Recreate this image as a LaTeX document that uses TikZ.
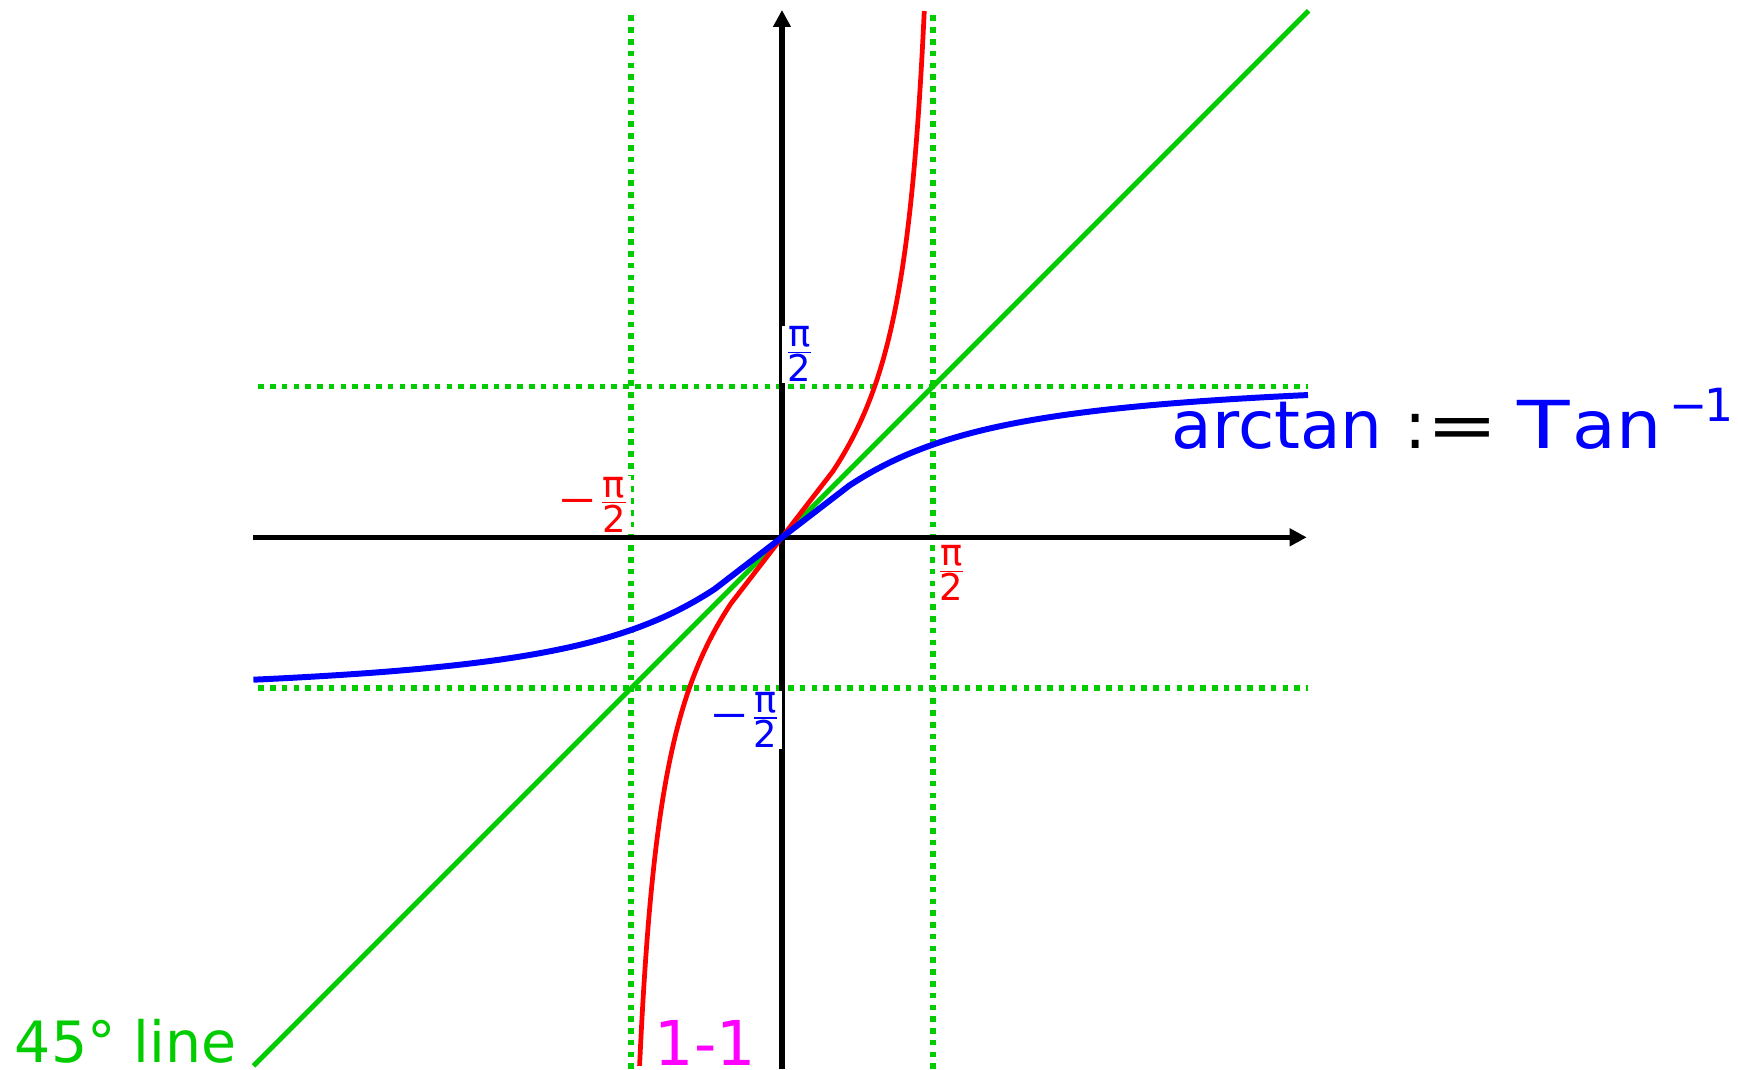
\documentclass[tikz,border=0pt]{standalone}
\usepackage{fontspec}
\setmainfont{DejaVu Sans}
\usetikzlibrary{arrows.meta}
\definecolor{lgreen}{RGB}{0,204,0}
\definecolor{pblue}{RGB}{0,0,255}
\definecolor{pred}{RGB}{255,0,0}
\definecolor{pmag}{RGB}{255,0,255}
\newcommand{\halfpi}{$\textstyle{\mbox{π}\over\mbox{2}}$}
\newcommand{\mhalfpi}{$\textstyle\mbox{\scalebox{1.3}[1]{−}}{\mbox{π}\over\mbox{2}}$}
\tikzset{
  axisline/.style={line width=1.5pt, draw=black, -{Triangle[length=0.17cm,width=0.17cm]}},
  gdot/.style={draw=lgreen, line width=1.6pt, dash pattern=on 1.6pt off 1.75pt},
  gline/.style={draw=lgreen, line width=1.4pt},
  redc/.style={draw=pred, line width=1.35pt, line join=round},
  bluec/.style={draw=pblue, line width=1.7pt, line join=round},
  ticklab/.style={fill=white, inner sep=0.3pt, font=\fontsize{10.5}{12}\selectfont},
  biglab/.style={inner sep=0pt, anchor=base west, text depth=0pt}
}
\begin{document}
\begin{tikzpicture}[x=0.961cm, y=0.961cm]
\useasboundingbox (-8.137,-5.533) rectangle (9.948,5.591);
% reference coordinates
\coordinate (xl) at (-5.5,0);
\coordinate (xr) at (5.46,0);
\coordinate (yb) at (0,-5.533);
\coordinate (yt) at (0,5.487);
\coordinate (hl1) at (-5.45,1.5708);
\coordinate (hr1) at (5.47,1.5708);
\coordinate (hl2) at (-5.45,-1.5708);
\coordinate (hr2) at (5.47,-1.5708);
\coordinate (vt1) at (-1.5708,5.43);
\coordinate (vb1) at (-1.5708,-5.533);
\coordinate (vt2) at (1.5708,5.43);
\coordinate (vb2) at (1.5708,-5.533);
\coordinate (gl) at (-5.5,-5.5);
\coordinate (gr) at (5.48,5.48);
% dotted guide lines
\draw[gdot] (hl1) -- (hr1);
\draw[gdot] (hl2) -- (hr2);
\draw[gdot] (vt1) -- (vb1);
\draw[gdot] (vt2) -- (vb2);
% axes
\draw[axisline] (xl) -- (xr);
\draw[axisline] (yb) -- (yt);
% tick labels
\node[ticklab, text=pblue] (pu) at (0.18,1.904) {\halfpi};
\node[ticklab, text=pred] (ml) at (-1.958,0.34) {\mhalfpi};
\node[ticklab, text=pred] (pr) at (1.766,-0.375) {\halfpi};
\node[ticklab, text=pblue] (md) at (-0.382,-1.901) {\mhalfpi};
% 45 degree line
\draw[gline] (gl) -- (gr);
% tan curve
\draw[redc] plot[domain=-1.4817:-0.53, samples=90, smooth] (\x,{1.33*tan(deg(0.9*\x))})
  -- plot[domain=0.53:1.4817, samples=90, smooth] (\x,{1.33*tan(deg(0.9*\x))});
% arctan curve
\draw[bluec] plot[domain=-5.5:-0.7, samples=80, smooth] (\x,{rad(atan(\x/1.33))/0.9})
  -- plot[domain=0.7:5.474, samples=80, smooth] (\x,{rad(atan(\x/1.33))/0.9});
% big labels
\node[biglab, font=\fontsize{18.8}{22}\selectfont] (arct) at (4.05,0.919)
  {\textcolor{pblue}{arctan}\hspace{0.33em}\textcolor{black}{:\scalebox{1.3}[1]{=}}\hspace{0.28em}\textcolor{pblue}{\scalebox{1.3}[1]{T}\hspace{0.04em}\scalebox{1.08}[1]{an}\hspace{0.12em}\raisebox{0.42em}{\fontsize{13}{15}\selectfont −\hspace{-0.06em}1}}};
\node[biglab, text=lgreen, font=\fontsize{16.2}{19}\selectfont] (fortyfive) at (-7.99,-5.467) {45° line};
\node[biglab, text=pmag, font=\fontsize{17.6}{20}\selectfont] (oneone) at (-1.33,-5.491) {1-1};
\end{tikzpicture}
\end{document}
